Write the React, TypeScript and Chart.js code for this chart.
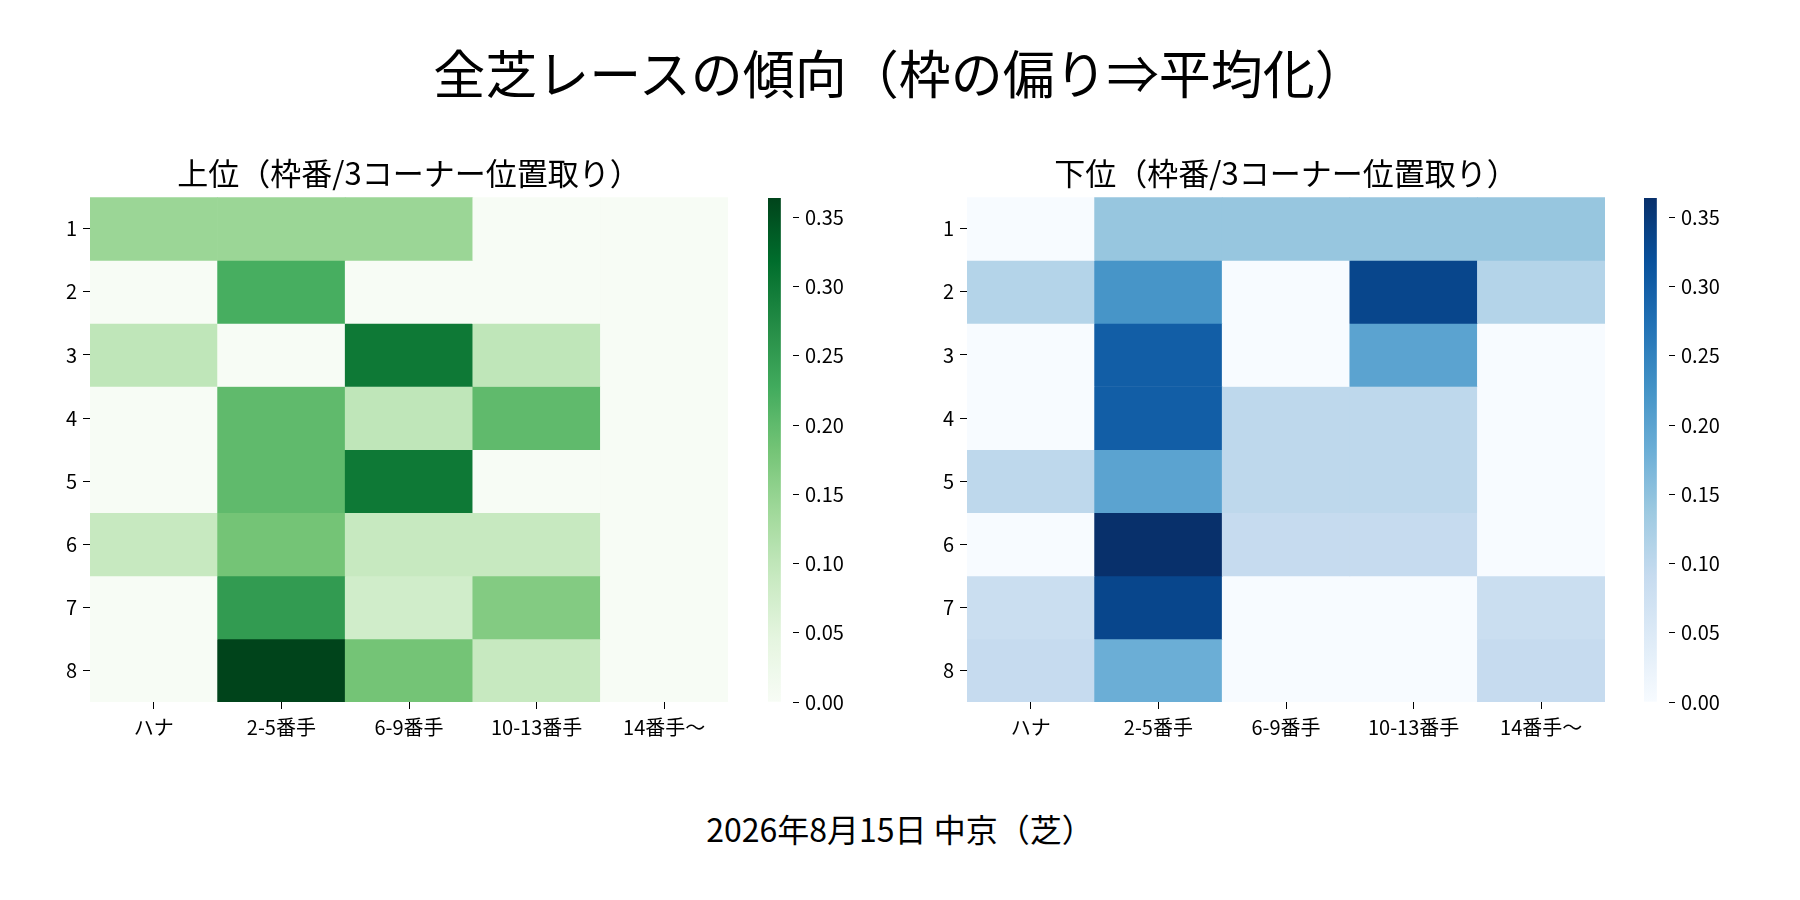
import React, { useEffect, useRef } from "react";
import { Chart, registerables } from "chart.js";

Chart.register(...registerables);

// ---- data ----
const mainTitle = "全芝レースの傾向（枠の偏り⇒平均化）";
const footerText = "2026年8月15日 中京（芝）";
const topTitle = "上位（枠番/3コーナー位置取り）";
const bottomTitle = "下位（枠番/3コーナー位置取り）";

const positions = ["ハナ", "2-5番手", "6-9番手", "10-13番手", "14番手〜"];
const frames = ["1", "2", "3", "4", "5", "6", "7", "8"];

// rows = 枠番 1..8, columns = positions
const topValues: number[][] = [
  [0.143, 0.143, 0.143, 0, 0],
  [0, 0.222, 0, 0, 0],
  [0.1, 0, 0.3, 0.1, 0],
  [0, 0.2, 0.1, 0.2, 0],
  [0, 0.2, 0.3, 0, 0],
  [0.091, 0.182, 0.091, 0.091, 0],
  [0, 0.25, 0.077, 0.167, 0],
  [0, 0.364, 0.182, 0.091, 0],
];

const bottomValues: number[][] = [
  [0, 0.143, 0.143, 0.143, 0.143],
  [0.111, 0.222, 0, 0.333, 0.111],
  [0, 0.3, 0, 0.2, 0],
  [0, 0.3, 0.1, 0.1, 0],
  [0.1, 0.2, 0.1, 0.1, 0],
  [0, 0.364, 0.091, 0.091, 0],
  [0.083, 0.333, 0, 0, 0.083],
  [0.091, 0.182, 0, 0, 0.091],
];

const colorbarTicks = [0, 0.05, 0.1, 0.15, 0.2, 0.25, 0.3, 0.35];

const GREENS = ["#f7fcf5", "#e5f5e0", "#c7e9c0", "#a1d99b", "#74c476", "#41ab5d", "#238b45", "#006d2c", "#00441b"];
const BLUES = ["#f7fbff", "#deebf7", "#c6dbef", "#9ecae1", "#6baed6", "#4292c6", "#2171b5", "#08519c", "#08306b"];

const FONT = "'Noto Sans CJK JP', 'Noto Sans', sans-serif";

function hexToRgb(h: string) {
  const n = parseInt(h.slice(1), 16);
  return [(n >> 16) & 255, (n >> 8) & 255, n & 255];
}

function cmap(stops: string[], t: number) {
  const tt = Math.max(0, Math.min(1, t));
  const x = tt * (stops.length - 1);
  const i = Math.min(Math.floor(x), stops.length - 2);
  const f = x - i;
  const a = hexToRgb(stops[i]);
  const b = hexToRgb(stops[i + 1]);
  const c = a.map((v, k) => Math.round(v + (b[k] - v) * f));
  return `rgb(${c[0]},${c[1]},${c[2]})`;
}

function heatmapConfig(values: number[][], stops: string[], title: string): any {
  const vmax = Math.max(...values.flat());
  const vmin = Math.min(...values.flat());
  return {
    type: "bar",
    data: {
      labels: positions,
      datasets: frames.map((f, r) => ({
        label: f,
        data: values[r].map(() => [r, r + 1]),
        backgroundColor: values[r].map((v) => cmap(stops, (v - vmin) / (vmax - vmin))),
        borderWidth: 0,
        barPercentage: 1,
        categoryPercentage: 1,
        grouped: false,
      })),
    },
    options: {
      responsive: false,
      animation: false,
      layout: { padding: { left: 0, right: 12, top: 0, bottom: 0 } },
      plugins: {
        legend: { display: false },
        tooltip: { enabled: false },
        title: {
          display: true,
          text: title,
          fullSize: false,
          color: "#000",
          font: { family: FONT, size: 31, weight: "normal", lineHeight: 1.2 },
          padding: { top: 5, bottom: 5 },
        },
      },
      scales: {
        x: {
          type: "category",
          offset: true,
          grid: { display: true, drawOnChartArea: false, drawTicks: true, tickLength: 7, color: "#000", offset: false },
          border: { display: false },
          ticks: { color: "#000", font: { family: FONT, size: 20 }, padding: 6, maxRotation: 0 },
          afterFit: (s: any) => {
            s.height = 58;
          },
        },
        y: {
          type: "linear",
          min: 0,
          max: frames.length,
          reverse: true,
          grid: { display: true, drawOnChartArea: false, drawTicks: true, tickLength: 7, color: "#000" },
          border: { display: false },
          afterBuildTicks: (s: any) => {
            s.ticks = frames.map((_, i) => ({ value: i + 0.5 }));
          },
          ticks: {
            color: "#000",
            font: { family: FONT, size: 20 },
            padding: 6,
            callback: (_v: any, i: number) => frames[i],
          },
          afterFit: (s: any) => {
            s.width = 90;
          },
        },
      },
    },
  };
}

function colorbarConfig(values: number[][], stops: string[]): any {
  const vmax = Math.max(...values.flat());
  const vmin = Math.min(...values.flat());
  return {
    type: "bar",
    data: {
      labels: ["scale"],
      datasets: [
        {
          data: [[vmin, vmax]],
          borderWidth: 0,
          barPercentage: 1,
          categoryPercentage: 1,
          backgroundColor: (ctx: any) => {
            const chart = ctx.chart;
            const y = chart.scales?.y;
            if (!chart.chartArea || !y) return stops[0];
            const y0 = y.getPixelForValue(vmin);
            const y1 = y.getPixelForValue(vmax);
            const g = chart.ctx.createLinearGradient(0, y0, 0, y1);
            const n = 32;
            for (let i = 0; i <= n; i++) g.addColorStop(i / n, cmap(stops, i / n));
            return g;
          },
        },
      ],
    },
    options: {
      responsive: false,
      animation: false,
      layout: { padding: { left: 28, right: 27, top: 48, bottom: 58 } },
      plugins: { legend: { display: false }, tooltip: { enabled: false }, title: { display: false } },
      scales: {
        x: { display: false, offset: false },
        y: {
          position: "right",
          min: vmin,
          max: vmax,
          grid: { display: true, drawOnChartArea: false, drawTicks: true, tickLength: 6, color: "#000" },
          border: { display: false },
          afterBuildTicks: (s: any) => {
            s.ticks = colorbarTicks.map((v) => ({ value: v }));
          },
          ticks: {
            color: "#000",
            font: { family: FONT, size: 20 },
            padding: 6,
            callback: (v: any) => Number(v).toFixed(2),
          },
          afterFit: (s: any) => {
            s.width = 60;
          },
        },
      },
    },
  };
}

function ChartCanvas({ config, left, top, width, height }: any) {
  const ref = useRef<HTMLCanvasElement | null>(null);
  useEffect(() => {
    if (!ref.current) return;
    const chart = new Chart(ref.current, config);
    return () => chart.destroy();
  }, [config]);
  return (
    <canvas
      ref={ref}
      width={width}
      height={height}
      style={{ position: "absolute", left, top, width, height }}
    />
  );
}

const topHeat = heatmapConfig(topValues, GREENS, topTitle);
const topBar = colorbarConfig(topValues, GREENS);
const botHeat = heatmapConfig(bottomValues, BLUES, bottomTitle);
const botBar = colorbarConfig(bottomValues, BLUES);

export default function App() {
  return (
    <div
      style={{
        position: "fixed",
        left: 0,
        top: 0,
        width: 1800,
        height: 900,
        background: "#fff",
        fontFamily: FONT,
        overflow: "hidden",
      }}
    >
      <div
        style={{
          position: "absolute",
          left: 900,
          top: 72,
          transform: "translate(-50%, -50%)",
          fontSize: 52,
          lineHeight: 1,
          whiteSpace: "nowrap",
          color: "#000",
        }}
      >
        {mainTitle}
      </div>
      <ChartCanvas config={topHeat} left={0} top={150} width={740} height={610} />
      <ChartCanvas config={topBar} left={740} top={150} width={140} height={610} />
      <ChartCanvas config={botHeat} left={877} top={150} width={740} height={610} />
      <ChartCanvas config={botBar} left={1616} top={150} width={140} height={610} />
      <div
        style={{
          position: "absolute",
          left: 900,
          top: 828,
          transform: "translate(-50%, -50%)",
          fontSize: 32,
          lineHeight: 1,
          whiteSpace: "nowrap",
          color: "#000",
        }}
      >
        {footerText}
      </div>
    </div>
  );
}
